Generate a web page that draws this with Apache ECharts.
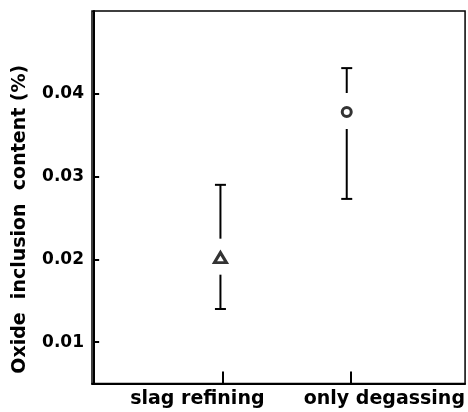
<!DOCTYPE html>
<html>
<head>
<meta charset="utf-8">
<script src="https://cdn.jsdelivr.net/npm/echarts@6/dist/echarts.min.js"></script>
<style>
  html, body { margin: 0; padding: 0; background: #fff; }
  #chart { width: 468px; height: 412px; }
</style>
</head>
<body>
<div id="chart"></div>
<script>
// Treatment groups and their oxide inclusion content (%)
const categories = ['slag refining', 'only degassing'];
const categoryIndex = [1, 2];
const meanValues = [0.0202, 0.0378];
const lowValues = [0.0140, 0.0273];
const highValues = [0.0290, 0.0431];
const markerSymbols = ['triangle', 'circle'];
const markerSizes = [[12, 10], 9];

// Axis ticks
const yTickValues = [0.01, 0.02, 0.03, 0.04];
const xTickValues = [1.02, 2.03];
const xLabelValues = [0.817, 2.298];

const FONT = 'DejaVu Sans';

const errorData = categoryIndex.map((x, i) => [x, lowValues[i], highValues[i], meanValues[i]]);
const pointData = categoryIndex.map((x, i) => ({
  value: [x, meanValues[i]],
  symbol: markerSymbols[i],
  symbolSize: markerSizes[i]
}));

function renderErrorBar(params, api) {
  const x = api.value(0);
  const top = api.coord([x, api.value(2)]);
  const bottom = api.coord([x, api.value(1)]);
  const mid = api.coord([x, api.value(3)]);
  const capHalf = 5.5;
  const gapAbove = 19;
  const gapBelow = 17;
  const style = { stroke: '#000', lineWidth: 2 };
  return {
    type: 'group',
    children: [
      { type: 'line', shape: { x1: top[0] - capHalf, y1: top[1], x2: top[0] + capHalf, y2: top[1] }, style },
      { type: 'line', shape: { x1: top[0], y1: top[1], x2: mid[0], y2: mid[1] - gapAbove }, style },
      { type: 'line', shape: { x1: mid[0], y1: mid[1] + gapBelow, x2: bottom[0], y2: bottom[1] }, style },
      { type: 'line', shape: { x1: bottom[0] - capHalf, y1: bottom[1], x2: bottom[0] + capHalf, y2: bottom[1] }, style }
    ]
  };
}

const chart = echarts.init(document.getElementById('chart'), null, { renderer: 'canvas' });
chart.setOption({
  backgroundColor: '#fff',
  animation: false,
  grid: {
    left: 92, right: 2, top: 11, bottom: 28.5,
    show: true, borderColor: '#000', borderWidth: 1.5, backgroundColor: 'transparent'
  },
  xAxis: {
    type: 'value',
    min: -0.017,
    max: 2.937,
    splitLine: { show: false },
    axisLine: { show: true, lineStyle: { color: '#000', width: 2 } },
    axisTick: { show: true, inside: true, length: 12, customValues: xTickValues, lineStyle: { color: '#000', width: 2 } },
    axisLabel: {
      customValues: xLabelValues,
      formatter: v => categories[Math.round(v) - 1],
      color: '#000', fontFamily: FONT, fontWeight: 'bold', fontSize: 19, margin: 6
    }
  },
  yAxis: {
    type: 'value',
    min: 0.005,
    max: 0.05,
    name: 'Oxide  inclusion  content (%)',
    nameLocation: 'middle',
    nameGap: 62,
    nameTextStyle: {
      color: '#000', fontFamily: FONT, fontWeight: 'bold', fontSize: 19,
      padding: [0, 44, 0, 0]
    },
    splitLine: { show: false },
    axisLine: { show: true, lineStyle: { color: '#000', width: 2 } },
    axisTick: { show: true, inside: true, length: 5, customValues: yTickValues, lineStyle: { color: '#000', width: 2 } },
    axisLabel: {
      customValues: yTickValues,
      formatter: v => v.toFixed(2),
      color: '#000', fontFamily: FONT, fontWeight: 'bold', fontSize: 17, margin: 8
    }
  },
  series: [
    {
      type: 'custom',
      renderItem: renderErrorBar,
      data: errorData,
      z: 2
    },
    {
      type: 'scatter',
      data: pointData,
      itemStyle: { color: '#fff', borderColor: '#000', borderWidth: 3 },
      z: 3
    }
  ]
});
</script>
</body>
</html>
